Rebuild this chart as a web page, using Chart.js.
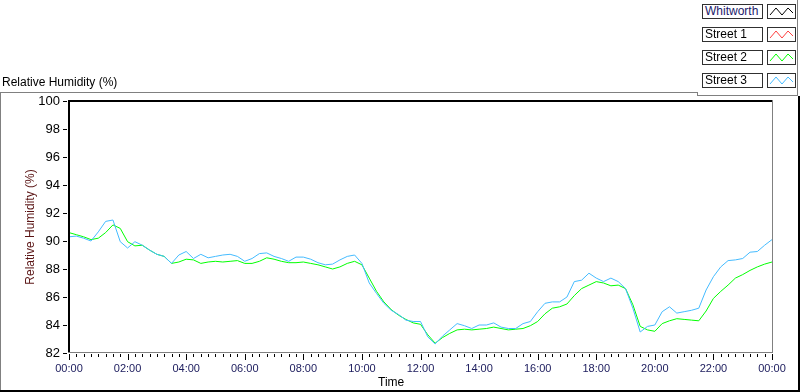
<!DOCTYPE html>
<html>
<head>
<meta charset="utf-8">
<script src="https://cdn.jsdelivr.net/npm/chart.js@4.4.1/dist/chart.umd.min.js"></script>
<style>
  body { margin: 0; background: #fff; font-family: "Liberation Sans", Arial, sans-serif; }
  #panel { position: relative; width: 800px; height: 392px; overflow: hidden; background: #fff; }
  #chart { position: absolute; left: 0; top: 0; }
  .ln { position: absolute; }
  #title { position: absolute; left: 2px; top: 76px; font-size: 12px; line-height: 12px; color: #000; white-space: nowrap; }
  #xname { position: absolute; left: 378px; top: 376px; width: 26px; text-align: center; font-size: 12px; line-height: 12px; color: #000; }
  .lbl { position: absolute; left: 702px; width: 61px; height: 15px; box-sizing: border-box; border: 1px solid #303030;
         font-size: 12px; line-height: 13px; padding-left: 2px; background: #fff; white-space: nowrap; overflow: hidden; }
  .ico { position: absolute; left: 767px; width: 29px; height: 15px; box-sizing: border-box; border: 1px solid #303030; background: #fff; }
  .ico svg { position: absolute; left: 0; top: 0; }
</style>
</head>
<body>
<div id="panel">
  <canvas id="chart" width="800" height="392"></canvas>
  <div id="title">Relative Humidity (%)</div>
  <div class="ln" style="left:0;top:92px;width:697px;height:1px;background:#808080"></div>
  <div class="ln" style="left:697px;top:92px;width:1px;height:4px;background:#808080"></div>
  <div class="ln" style="left:697px;top:95px;width:101px;height:1px;background:#808080"></div>
  <div class="ln" style="left:797px;top:0;width:1px;height:96px;background:#808080"></div>
  <div class="ln" style="left:0;top:92px;width:1px;height:300px;background:#808080"></div>
  <div class="ln" style="left:798px;top:96px;width:2px;height:296px;background:#000"></div>
  <div class="ln" style="left:0;top:390px;width:800px;height:2px;background:#000"></div>
  <div id="xname">Time</div>
  <div id="legend"></div>
</div>
<script>
// series shown in the legend (Whitworth and Street 1 have no visible trace)
const seriesNames = ['Whitworth', 'Street 1', 'Street 2', 'Street 3'];
const seriesColors = ['#000000', '#ff4040', '#00ff00', '#44bbff'];

// x tick labels, every 2 hours over one day
const tickLabels = ['00:00', '02:00', '04:00', '06:00', '08:00', '10:00', '12:00',
                    '14:00', '16:00', '18:00', '20:00', '22:00', '00:00'];
const yTicks = [82, 84, 86, 88, 90, 92, 94, 96, 98, 100];

// readings every 15 minutes, one row per hour (last value = 24:00)
const whitworth = [];
const street1 = [];
const street2 = [
  90.6, 90.45, 90.3, 90.1,
  90.2, 90.6, 91.15, 90.9,
  89.95, 89.65, 89.7, 89.35,
  89.05, 88.9, 88.4, 88.5,
  88.7, 88.65, 88.4, 88.5,
  88.55, 88.5, 88.55, 88.6,
  88.4, 88.4, 88.55, 88.8,
  88.7, 88.55, 88.45, 88.45,
  88.5, 88.4, 88.3, 88.15,
  88.0, 88.15, 88.4, 88.55,
  88.3, 87.35, 86.4, 85.65,
  85.1, 84.7, 84.4, 84.15,
  84.05, 83.3, 82.7, 83.1,
  83.4, 83.65, 83.7, 83.65,
  83.7, 83.75, 83.85, 83.75,
  83.65, 83.7, 83.75, 83.95,
  84.25, 84.8, 85.2, 85.3,
  85.5, 86.1, 86.6, 86.85,
  87.1, 87.0, 86.8, 86.85,
  86.6, 85.45, 83.9, 83.65,
  83.55, 84.1, 84.3, 84.45,
  84.4, 84.35, 84.3, 85.0,
  85.9, 86.4, 86.85, 87.35,
  87.6, 87.9, 88.15, 88.35,
  88.5
];
const street3 = [
  90.3, 90.35, 90.2, 90.0,
  90.65, 91.4, 91.5, 89.95,
  89.5, 89.95, 89.7, 89.35,
  89.05, 88.9, 88.4, 89.0,
  89.25, 88.75, 89.05, 88.8,
  88.9, 89.0, 89.05, 88.9,
  88.55, 88.75, 89.1, 89.15,
  88.9, 88.75, 88.55, 88.85,
  88.85, 88.7, 88.45, 88.3,
  88.35, 88.65, 88.9, 89.0,
  88.4, 87.0, 86.25, 85.55,
  85.05, 84.75, 84.35, 84.25,
  84.25, 83.15, 82.65, 83.2,
  83.65, 84.1, 83.95, 83.75,
  84.0, 84.0, 84.15, 83.85,
  83.75, 83.75, 84.1, 84.25,
  84.95, 85.55, 85.65, 85.65,
  86.0, 87.1, 87.2, 87.7,
  87.35, 87.1, 87.35, 87.1,
  86.6, 85.2, 83.5, 83.9,
  84.0, 84.95, 85.3, 84.85,
  84.95, 85.05, 85.2, 86.5,
  87.45, 88.15, 88.6, 88.65,
  88.75, 89.2, 89.25, 89.7,
  90.1
];
const seriesData = [whitworth, street1, street2, street3];

// pair each reading with its time in hours
function toPoints(values) {
  return values.map((v, i) => ({ x: i * 0.25, y: v }));
}

// legend boxes on the top right
const legend = document.getElementById('legend');
seriesNames.forEach((name, i) => {
  const top = 4 + i * 23;
  const lbl = document.createElement('div');
  lbl.className = 'lbl';
  lbl.style.top = top + 'px';
  lbl.style.color = i === 0 ? '#1a1a6a' : '#000';
  lbl.textContent = name;
  const ico = document.createElement('div');
  ico.className = 'ico';
  ico.style.top = top + 'px';
  ico.innerHTML = `<svg width="27" height="13" viewBox="0 0 27 13">
    <polyline points="2,10 8,3 14,10 20,3 25,8" fill="none" stroke="${seriesColors[i]}" stroke-width="1"/></svg>`;
  legend.appendChild(lbl);
  legend.appendChild(ico);
});

// plot frame (black top/left, grey bottom/right) and tick marks
const frame = {
  id: 'frame',
  afterDatasetsDraw(chart) {
    const { ctx, chartArea: a, scales: { x, y } } = chart;
    ctx.save();
    ctx.fillStyle = '#000';
    ctx.fillRect(a.left - 1, a.top - 1, 2, a.bottom - a.top + 1);
    ctx.fillRect(a.left - 1, a.top - 1, a.right - a.left + 1, 2);
    ctx.fillStyle = '#808080';
    ctx.fillRect(a.right, a.top - 1, 1, a.bottom - a.top + 1);
    ctx.fillRect(a.left - 1, a.bottom - 1, a.right - a.left + 2, 1);
    ctx.fillStyle = '#000';
    yTicks.forEach(v => {
      const py = Math.round(y.getPixelForValue(v));
      ctx.fillRect(a.left - 6, py, 4, 1);
    });
    for (let m = 0; m <= 24 * 60; m += 15) {
      const px = Math.round(x.getPixelForValue(m / 60));
      const major = m % 120 === 0;
      ctx.fillRect(px, a.bottom + 1, 1, major ? 6 : 3);
    }
    ctx.restore();
  }
};

new Chart(document.getElementById('chart'), {
  type: 'line',
  data: {
    datasets: seriesNames.map((name, i) => ({
      label: name,
      data: toPoints(seriesData[i]),
      borderColor: seriesColors[i],
      borderWidth: 1,
      pointRadius: 0,
      tension: 0,
      fill: false,
      order: 3 - i
    }))
  },
  options: {
    responsive: false,
    animation: false,
    devicePixelRatio: 1,
    layout: { padding: { top: 101, right: 28, bottom: 0, left: 0 } },
    plugins: { legend: { display: false }, tooltip: { enabled: false } },
    scales: {
      x: {
        type: 'linear',
        min: 0,
        max: 24,
        afterFit: s => { s.height = 39; },
        grid: { display: false, drawTicks: false },
        border: { display: false },
        ticks: {
          stepSize: 2,
          autoSkip: false,
          maxRotation: 0,
          padding: 9,
          color: '#202060',
          font: { family: 'Liberation Sans', size: 11 },
          callback: v => tickLabels[v / 2]
        }
      },
      y: {
        min: 82,
        max: 100,
        afterFit: s => { s.width = 69; },
        grid: { display: false, drawTicks: false },
        border: { display: false },
        ticks: {
          stepSize: 2,
          padding: 9,
          color: '#000',
          font: { family: 'Liberation Sans', size: 13 }
        },
        title: {
          display: true,
          text: 'Relative Humidity (%)',
          color: '#5a1414',
          padding: { top: 23, bottom: 0 },
          font: { family: 'Liberation Sans', size: 12 }
        }
      }
    }
  },
  plugins: [frame]
});
</script>
</body>
</html>
